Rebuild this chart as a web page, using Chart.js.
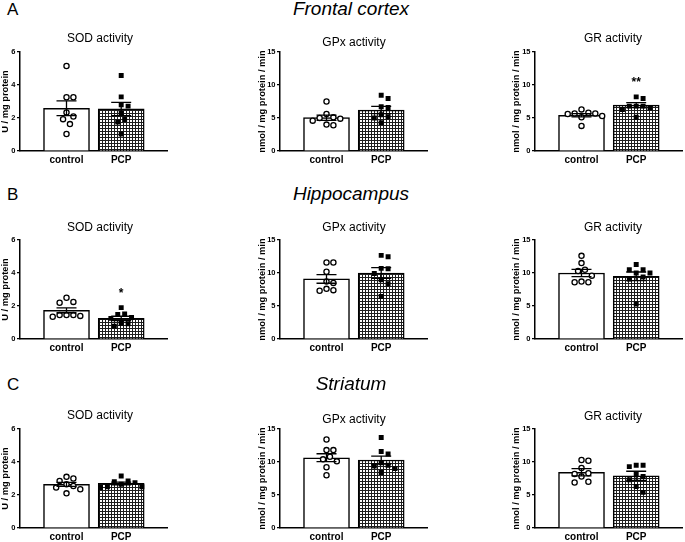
<!DOCTYPE html>
<html>
<head>
<meta charset="utf-8">
<script src="https://cdn.jsdelivr.net/npm/chart.js@4"></script>
<style>
  html, body { margin: 0; padding: 0; background: #fff; }
  #fig { position: relative; width: 685px; height: 542px; overflow: hidden; font-family: "Liberation Sans", Arial, sans-serif; color: #000; }
  #fig canvas { position: absolute; }
  .lbl { position: absolute; line-height: 1; white-space: nowrap; }
</style>
</head>
<body>
<div id="fig"></div>
<script>
// ---- data ----
const groups = ['control', 'PCP'];
const regionNames = ['Frontal cortex', 'Hippocampus', 'Striatum'];
const panelLetters = ['A', 'B', 'C'];
const enzymeTitles = ['SOD activity', 'GPx activity', 'GR activity'];
const yTitles = ['U / mg protein', 'nmol / mg protein / min', 'nmol / mg protein / min'];
const yMaxes = [6, 15, 15];
const ySteps = [2, 5, 5];

// frontal cortex: [SOD, GPx, GR]
const fcCtrl = [
  [5.15, 3.26, 3.26, 2.34, 2.09, 1.93, 1.63, 1.03],
  [7.5, 5.6, 5.1, 5.0, 4.9, 4.6, 4.0, 3.9],
  [6.3, 5.8, 5.7, 5.7, 5.6, 5.3, 5.1, 3.8]
];
const fcPcp = [
  [4.57, 3.28, 2.80, 2.72, 2.28, 1.91, 1.75, 1.03],
  [8.45, 7.95, 6.7, 6.6, 5.5, 5.2, 5.0, 4.3],
  [8.2, 7.95, 6.8, 6.8, 6.8, 6.55, 6.3, 5.1]
];
const fcMeanCtrl = [2.59, 5.05, 5.42];
const fcMeanPcp = [2.55, 6.2, 6.95];
const fcSemCtrl = [0.45, 0.4, 0.25];
const fcSemPcp = [0.4, 0.55, 0.38];
const fcStars = ['', '', '**'];

// hippocampus
const hcCtrl = [
  [2.5, 2.25, 2.2, 1.45, 1.45, 1.45, 1.4, 1.35],
  [11.6, 11.6, 10.2, 8.7, 8.5, 7.6, 7.4, 7.3],
  [12.6, 11.5, 10.5, 10.3, 9.6, 8.7, 8.6, 8.6]
];
const hcPcp = [
  [1.9, 1.52, 1.48, 1.3, 1.25, 0.95, 0.93, 0.78],
  [12.67, 12.47, 10.7, 10.64, 9.93, 8.97, 8.36, 6.44],
  [11.3, 10.5, 10.5, 10.0, 10.0, 9.4, 9.1, 5.3]
];
const hcMeanCtrl = [1.74, 9.1, 10.0];
const hcMeanPcp = [1.25, 10.0, 9.5];
const hcSemCtrl = [0.15, 0.65, 0.55];
const hcSemPcp = [0.13, 0.8, 0.65];
const hcStars = ['*', '', ''];

// striatum
const stCtrl = [
  [3.1, 3.0, 2.85, 2.65, 2.55, 2.45, 2.35, 2.1],
  [13.4, 11.8, 11.8, 10.8, 10.4, 10.1, 9.2, 8.0],
  [10.3, 10.2, 9.1, 8.3, 8.2, 7.8, 7.0, 6.9]
];
const stPcp = [
  [3.15, 2.85, 2.8, 2.75, 2.65, 2.5, 2.5, 2.45],
  [13.7, 11.6, 11.2, 9.9, 9.5, 9.4, 9.0, 8.4],
  [9.5, 9.5, 9.3, 8.1, 7.8, 7.3, 6.3, 5.4]
];
const stMeanCtrl = [2.64, 10.65, 8.45];
const stMeanPcp = [2.7, 10.3, 7.9];
const stSemCtrl = [0.12, 0.6, 0.55];
const stSemPcp = [0.08, 0.6, 0.7];
const stStars = ['', '', ''];

// ---- layout ----
const FONT = '"Liberation Sans", Arial, sans-serif';
const PAD_TOP = 8, PLOT_H = 99, PLOT_W = 150, X_H = 20, PAD_R = 3;
const X_MIN = 0.15, X_MAX = 2.85;
const rowPlotTop = [52, 240, 429];
const colAxisX = [20, 280, 535];
const colYW = [20, 23, 24];
const titleX = [100, 354, 613];
const titleY = [[38, 42, 38], [227, 227, 227], [415, 419, 416]];
const headerBase = [15, 200, 390];

const fig = document.getElementById('fig');

function addText(txt, x, baseline, size, o) {
  const d = document.createElement('div');
  d.className = 'lbl';
  d.textContent = txt;
  d.style.fontSize = size + 'px';
  d.style.top = (baseline - 0.8465 * size) + 'px';
  d.style.left = x + 'px';
  if (o.center) d.style.transform = 'translateX(-50%)';
  if (o.italic) d.style.fontStyle = 'italic';
  if (o.bold) d.style.fontWeight = 'bold';
  fig.appendChild(d);
}

// spread points sideways so they don't overlap (column scatter)
function swarm(vals, pxPerUnit) {
  const d = 7, step = 3.5;
  const order = vals.map((v, i) => i).sort((a, b) => vals[b] - vals[a]);
  const placed = [];
  const off = vals.map(() => 0);
  order.forEach(i => {
    const yp = vals[i] * pxPerUnit;
    for (let k = 0; k < 30; k++) {
      const cand = (k % 2 ? 1 : -1) * Math.ceil(k / 2) * step;
      if (placed.every(p => Math.hypot(p.x - cand, p.y - yp) >= d)) {
        off[i] = cand;
        placed.push({ x: cand, y: yp });
        break;
      }
    }
  });
  return off;
}

function gridPattern(ctx) {
  const pc = document.createElement('canvas');
  pc.width = 3; pc.height = 3;
  const g = pc.getContext('2d');
  g.fillStyle = '#fff';
  g.fillRect(0, 0, 3, 3);
  g.fillStyle = '#1e1e1e';
  g.fillRect(0, 0, 3, 1);
  g.fillRect(0, 0, 1, 3);
  return ctx.createPattern(pc, 'repeat');
}

function panel(r, c, ctrl, pcp, means, sems, star) {
  const yW = colYW[c], yMax = yMaxes[c];
  const canvas = document.createElement('canvas');
  canvas.width = yW + PLOT_W + PAD_R;
  canvas.height = PAD_TOP + PLOT_H + X_H;
  canvas.style.left = (colAxisX[c] - yW) + 'px';
  canvas.style.top = (rowPlotTop[r] - PAD_TOP) + 'px';
  fig.appendChild(canvas);
  const ctx = canvas.getContext('2d');

  const pxY = PLOT_H / yMax;
  const pxX = PLOT_W / (X_MAX - X_MIN);
  const offC = swarm(ctrl, pxY);
  const offP = swarm(pcp, pxY);

  const errBars = {
    id: 'errBars',
    afterDatasetsDraw(chart) {
      const x = chart.scales.x, y = chart.scales.y, g = chart.ctx;
      g.save();
      g.strokeStyle = '#000';
      g.lineWidth = 1.3;
      means.forEach((m, i) => {
        const xc = x.getPixelForValue(i + 1);
        const yt = y.getPixelForValue(m + sems[i]);
        const yb = y.getPixelForValue(m - sems[i]);
        g.beginPath();
        g.moveTo(xc, yt); g.lineTo(xc, yb);
        g.moveTo(xc - 10, yt); g.lineTo(xc + 10, yt);
        g.moveTo(xc - 10, yb); g.lineTo(xc + 10, yb);
        g.stroke();
      });
      if (star) {
        g.fillStyle = '#000';
        g.font = 'bold 12px ' + FONT;
        g.textAlign = 'center';
        g.textBaseline = 'alphabetic';
        g.fillText(star, x.getPixelForValue(2), y.getPixelForValue(Math.max(...pcp)) - 10.5);
      }
      g.restore();
    }
  };

  new Chart(ctx, {
    type: 'bar',
    data: {
      datasets: [
        {
          type: 'bar',
          data: [{ x: 1, y: means[0] }, { x: 2, y: means[1] }],
          backgroundColor: ['#ffffff', gridPattern(ctx)],
          borderColor: '#000',
          borderWidth: 1.5,
          barThickness: 46,
          order: 3
        },
        {
          type: 'scatter',
          data: ctrl.map((v, i) => ({ x: 1 + offC[i] / pxX, y: v })),
          pointStyle: 'circle',
          pointRadius: 2.6,
          backgroundColor: '#fff',
          borderColor: '#000',
          borderWidth: 1.3,
          order: 1
        },
        {
          type: 'scatter',
          data: pcp.map((v, i) => ({ x: 2 + offP[i] / pxX, y: v })),
          pointStyle: 'rect',
          pointRadius: 3.5,
          backgroundColor: '#000',
          borderColor: '#000',
          borderWidth: 0,
          order: 0
        }
      ]
    },
    options: {
      responsive: false,
      animation: false,
      devicePixelRatio: 1,
      layout: { padding: { top: PAD_TOP, left: 0, right: PAD_R, bottom: 0 } },
      plugins: { legend: { display: false }, tooltip: { enabled: false } },
      scales: {
        x: {
          type: 'linear',
          offset: false,
          min: X_MIN,
          max: X_MAX,
          afterBuildTicks: s => { s.ticks = [{ value: 1 }, { value: 2 }]; },
          afterFit: s => { s.height = X_H; },
          ticks: {
            callback: v => groups[Math.round(v) - 1],
            color: '#000',
            font: { family: FONT, size: 10, weight: 'bold' },
            padding: 3,
            autoSkip: false,
            maxRotation: 0
          },
          grid: { display: true, offset: false, drawOnChartArea: false, drawTicks: false },
          border: { display: true, color: '#000', width: 1.5 }
        },
        y: {
          min: 0,
          max: yMax,
          afterFit: s => { s.width = yW; },
          ticks: {
            stepSize: ySteps[c],
            color: '#000',
            font: { family: FONT, size: 7.5, weight: 'bold' },
            padding: 1.5
          },
          grid: { drawOnChartArea: false, drawTicks: true, tickLength: 3, color: '#000', lineWidth: 1.2 },
          border: { display: true, color: '#000', width: 1.5 },
          title: {
            display: true,
            text: yTitles[c],
            color: '#000',
            font: { family: FONT, size: 9.3, weight: 'bold' },
            padding: 0
          }
        }
      }
    },
    plugins: [errBars]
  });

  addText(enzymeTitles[c], titleX[c], titleY[r][c] + 4.3, 12, { center: true });
}

const regions = [
  [fcCtrl, fcPcp, fcMeanCtrl, fcMeanPcp, fcSemCtrl, fcSemPcp, fcStars],
  [hcCtrl, hcPcp, hcMeanCtrl, hcMeanPcp, hcSemCtrl, hcSemPcp, hcStars],
  [stCtrl, stPcp, stMeanCtrl, stMeanPcp, stSemCtrl, stSemPcp, stStars]
];

regions.forEach(([ctrl, pcp, mC, mP, sC, sP, stars], r) => {
  addText(panelLetters[r], 7, headerBase[r], 17, {});
  addText(regionNames[r], 351, headerBase[r], 19, { center: true, italic: true });
  for (let c = 0; c < 3; c++) {
    panel(r, c, ctrl[c], pcp[c], [mC[c], mP[c]], [sC[c], sP[c]], stars[c]);
  }
});
</script>
</body>
</html>
